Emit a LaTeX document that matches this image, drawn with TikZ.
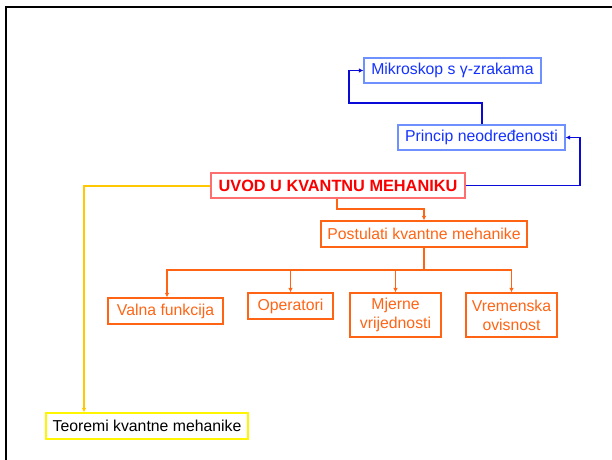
\documentclass[tikz,border=0pt]{standalone}
\usepackage{fontspec}
\setmainfont{Liberation Sans}
\usetikzlibrary{arrows.meta}
\definecolor{txtblue}{RGB}{20,50,255}
\definecolor{frameblue}{RGB}{110,145,255}
\definecolor{lineblue}{RGB}{10,10,215}
\definecolor{txtred}{RGB}{250,0,0}
\definecolor{framered}{RGB}{255,110,110}
\definecolor{orangec}{RGB}{255,100,20}
\definecolor{yellowline}{RGB}{255,200,0}
\definecolor{yellowbox}{RGB}{255,245,0}
\begin{document}
\begin{tikzpicture}[x=1pt,y=-1pt,
  box/.style={draw, line width=1.2pt, inner sep=0pt, minimum height=25pt,
              align=center, font=\fontsize{15.8}{19}\selectfont},
  bluebox/.style={box, draw=frameblue, text=txtblue},
  redbox/.style={box, draw=framered, text=txtred, font=\fontsize{16.3}{19}\selectfont\bfseries},
  orangebox/.style={box, draw=orangec, text=orangec},
  yellowbox/.style={box, draw=yellowbox, text=black},
  link/.style={line width=1.4pt, -{Latex[length=4.5pt,width=4.5pt]}},
  bluelink/.style={link, draw=lineblue},
  orangelink/.style={link, draw=orangec},
  yellowlink/.style={link, draw=yellowline, line width=2pt}]
\useasboundingbox (0,0) rectangle (612,459);
\clip (0,0) rectangle (612,459);

% slide frame
\draw[line width=2pt, black] (6,470) -- (6,7) -- (620,7);

% boxes
\node[bluebox, minimum width=177pt] (mik) at (452.5,70.5) {Mikroskop s γ-zrakama};
\node[bluebox, minimum width=167pt] (pri) at (481.5,137.5) {Princip neodređenosti};
\node[redbox, minimum width=254pt] (uvod) at (338,185.5) {UVOD U KVANTNU MEHANIKU};
\node[orangebox, minimum width=206pt, minimum height=26pt] (post) at (424,234) {Postulati kvantne mehanike};
\node[orangebox, minimum width=115pt, minimum height=26pt] (valna) at (165.5,311) {Valna funkcija};
\node[orangebox, minimum width=85pt, minimum height=26pt] (oper) at (290.5,306) {Operatori};
\node[orangebox, minimum width=91pt, minimum height=44pt] (mjer) at (395.5,315) {Mjerne\\vrijednosti};
\node[orangebox, minimum width=91pt, minimum height=44pt] (vrem) at (511.5,315) {Vremenska\\ovisnost};
\node[yellowbox, minimum width=202pt, minimum height=26pt] (teor) at (147,426) {Teoremi kvantne mehanike};

% helper points for the routed connectors
\coordinate (blueturn) at (580,185.5);
\coordinate (mikturn) at (349,103);
\coordinate (yturn) at (84,186);
\coordinate (ostep) at (337,209);
\coordinate (bus) at (424,270);

% blue branch
\draw[bluelink] (uvod.east) -- (blueturn) |- (pri.east);
\draw[bluelink] (pri.north -| 482,0) |- (mikturn) |- (mik.west);

% yellow branch
\draw[yellowlink] (uvod.west |- yturn) -- (yturn) -- (yturn |- teor.north);

% orange branch
\draw[orangelink] (uvod.south -| ostep) -- (ostep) -| (post.north);
\draw[line width=1.4pt, orangec] (post.south) -- (bus);
\draw[orangelink] (bus) -| (167,270) -- (167,0 |- valna.north);
\draw[orangelink] (bus) -| (oper.north);
\draw[orangelink] (bus) -| (mjer.north);
\draw[orangelink] (bus) -| (vrem.north);
\end{tikzpicture}
\end{document}
